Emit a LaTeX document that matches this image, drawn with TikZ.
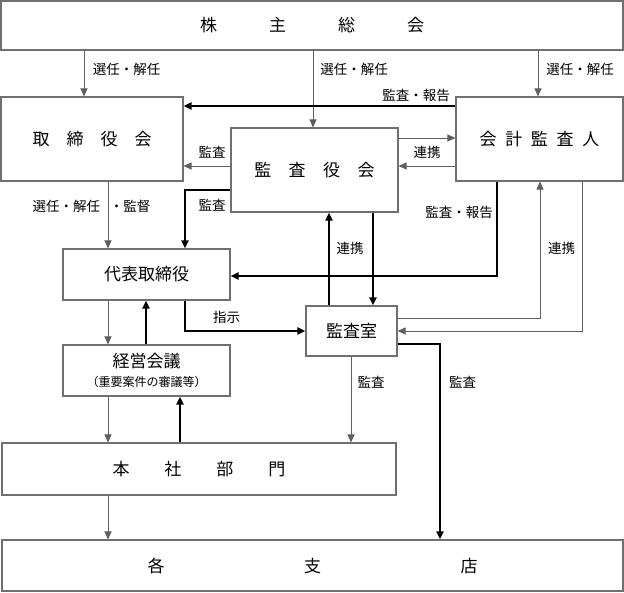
\documentclass[tikz,border=0pt]{standalone}
\usepackage{fontspec}
\setmainfont{Noto Sans CJK JP}
\usepackage{xcolor}
\usetikzlibrary{arrows.meta, calc}
\tikzset{>={Triangle[length=8pt,width=7pt]}}
\definecolor{linegray}{HTML}{5F5F5F}
\definecolor{boxgray}{HTML}{707070}

\begin{document}
\begin{tikzpicture}[x=1pt, y=-1pt,
    box/.style={draw=boxgray, line width=1.1pt, fill=white, inner sep=0pt, font=\fontsize{17}{20}\selectfont},
    lbl/.style={inner sep=0pt, font=\fontsize{13.5}{16}\selectfont},
    thinarr/.style={->, draw=linegray, line width=1pt},
    thickarr/.style={->, draw=black, line width=2.4pt}]
    \useasboundingbox (0,0) rectangle (624,592);
    % boxes
    \node[box, minimum width=622pt, minimum height=49pt] (gm) at (312,25.5) {株\hspace{52pt}主\hspace{52pt}総\hspace{52pt}会};
    \node[box, minimum width=182pt, minimum height=84pt] (bod) at (92,139) {取\hspace{17pt}締\hspace{17pt}役\hspace{17pt}会};
    \node[box, minimum width=167pt, minimum height=84pt] (aud) at (539.5,139) {会\hspace{8.7pt}計\hspace{8.7pt}監\hspace{8.7pt}査\hspace{8.7pt}人};
    \node[box, minimum width=167pt, minimum height=84pt] (asb) at (314.5,170) {監\hspace{17.5pt}査\hspace{17.5pt}役\hspace{17.5pt}会};
    \node[box, minimum width=167pt, minimum height=51pt] (ceo) at (146.5,274.5) {代表取締役};
    \node[box, minimum width=91pt, minimum height=50pt] (iad) at (351.5,331) {監査室};
    \node[box, minimum width=167pt, minimum height=51pt, align=center] (mgm) at (146.5,370.5) {経営会議\\[-1pt]{\fontsize{12}{14}\selectfont （重要案件の審議等）}};
    \node[box, minimum width=394pt, minimum height=52pt] (hq) at (199,469) {本\hspace{35pt}社\hspace{35pt}部\hspace{35pt}門};
    \node[box, minimum width=621pt, minimum height=51pt] (br) at (312.5,565.5) {各\hspace{139.5pt}支\hspace{139.5pt}店};

    % lanes
    \coordinate (v1) at (84,0);
    \coordinate (v2) at (313,0);
    \coordinate (v3) at (538,0);
    \coordinate (v4) at (108,0);
    \coordinate (v5) at (185,0);
    \coordinate (v6) at (497,0);
    \coordinate (v7) at (329,0);
    \coordinate (v8) at (373,0);
    \coordinate (v9) at (540,0);
    \coordinate (v10) at (582,0);
    \coordinate (v11) at (146,0);
    \coordinate (v12) at (351,0);
    \coordinate (v13) at (440,0);
    \coordinate (v14) at (180,0);
    \coordinate (h1) at (0,106);
    \coordinate (h2) at (0,138);
    \coordinate (h3) at (0,166);
    \coordinate (h4) at (0,190);
    \coordinate (h5) at (0,276);
    \coordinate (h6) at (0,318);
    \coordinate (h7) at (0,331);
    \coordinate (h8) at (0,344);

    % connectors
    \draw[thinarr] (gm.south -| v1) -- (bod.north -| v1);
    \draw[thinarr] (gm.south -| v2) -- (asb.north -| v2);
    \draw[thinarr] (gm.south -| v3) -- (aud.north -| v3);
    \draw[thickarr] (aud.west |- h1) -- (bod.east |- h1);
    \draw[thinarr] (asb.east |- h2) -- (aud.west |- h2);
    \draw[thinarr] (aud.west |- h3) -- (asb.east |- h3);
    \draw[thinarr] (asb.west |- h3) -- (bod.east |- h3);
    \draw[thickarr] (asb.west |- h4) -| (ceo.north -| v5);
    \draw[thinarr] (bod.south -| v4) -- (ceo.north -| v4);
    \draw[thickarr] (aud.south -| v6) |- (ceo.east |- h5);
    \draw[thickarr] (iad.north -| v7) -- (asb.south -| v7);
    \draw[thickarr] (asb.south -| v8) -- (iad.north -| v8);
    \draw[thinarr] (iad.east |- h6) -| (aud.south -| v9);
    \draw[thinarr] (aud.south -| v10) |- (iad.east |- h7);
    \draw[thickarr] (ceo.south -| v5) |- (iad.west |- h7);
    \draw[thinarr] (ceo.south -| v4) -- (mgm.north -| v4);
    \draw[thickarr] (mgm.north -| v11) -- (ceo.south -| v11);
    \draw[thinarr] (iad.south -| v12) -- (hq.north -| v12);
    \draw[thickarr] (iad.east |- h8) -| (br.north -| v13);
    \draw[thinarr] (mgm.south -| v4) -- (hq.north -| v4);
    \draw[thickarr] (hq.north -| v14) -- (mgm.south -| v14);
    \draw[thinarr] (hq.south -| v4) -- (br.north -| v4);

    % labels
    \node[lbl] (t1) at (126.5,69) {選任・解任};
    \node[lbl] (t2) at (354,69) {選任・解任};
    \node[lbl] (t3) at (580,69) {選任・解任};
    \node[lbl] (t4) at (416,95) {監査・報告};
    \node[lbl] (t5) at (212,152) {監査};
    \node[lbl] (t6) at (427,152) {連携};
    \node[lbl] (t7) at (91.5,206) {選任・解任\hspace{10pt}・監督};
    \node[lbl] (t8) at (212,205) {監査};
    \node[lbl] (t9) at (459,212) {監査・報告};
    \node[lbl] (t10) at (350,248) {連携};
    \node[lbl] (t11) at (561.5,248) {連携};
    \node[lbl] (t12) at (226.5,317) {指示};
    \node[lbl] (t13) at (371,382) {監査};
    \node[lbl] (t14) at (462.5,382) {監査};
\end{tikzpicture}
\end{document}
